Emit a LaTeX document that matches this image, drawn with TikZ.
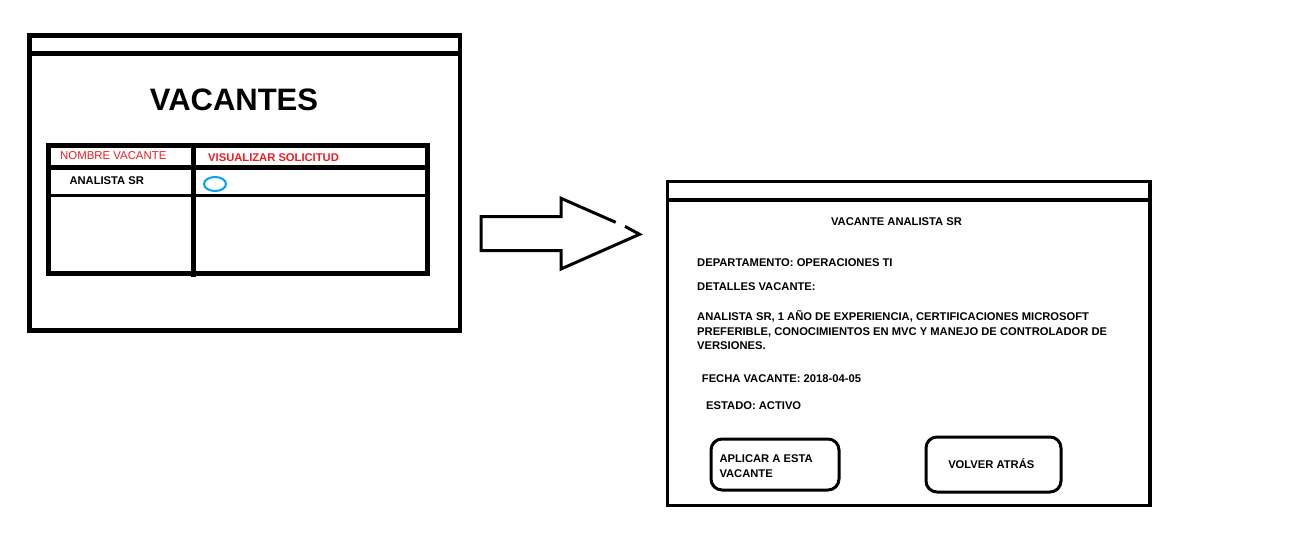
\documentclass[tikz,border=0pt]{standalone}
\usepackage{fontspec}
\setmainfont{Liberation Sans}
\definecolor{paintred}{HTML}{ED1C24}
\definecolor{paintblue}{HTML}{00A2E8}
\begin{document}
\begin{tikzpicture}[x=1pt, y=-1pt,
  txt/.style={anchor=base west, inner sep=0pt,
    font=\bfseries\fontsize{11.2}{13}\selectfont},
  hdr/.style={txt, text=paintred},
  frame/.style={line width=4.5pt},
  btn/.style={line width=3pt, rounded corners=11pt}]
\useasboundingbox (0,0) rectangle (1312,540);

% lista de vacantes
\draw[frame] (29.5,35.5) rectangle (460,330.5);
\draw[frame] (29.5,53.5) -- (460,53.5);
\node[anchor=base, inner sep=0pt, font=\bfseries\fontsize{31}{36}\selectfont]
  (titulo) at (234,111) {VACANTES};

\draw[frame] (48.5,145.5) rectangle (427.5,273.5);
\draw[frame] (48.5,167.5) -- (427.5,167.5);
\draw[line width=3.5pt] (48.5,195.5) -- (427.5,195.5);
\draw[frame] (193.5,145.5) -- (193.5,277);
\node[hdr, font=\fontsize{11.4}{13}\selectfont] (nombre) at (60,160) {NOMBRE VACANTE};
\node[hdr] (visualizar) at (208,161.5) {VISUALIZAR SOLICITUD};
\node[txt] (analista) at (69.3,184.3) {ANALISTA SR};
\draw[paintblue, line width=2pt] (215,184) ellipse (11pt and 7pt);

% flecha
\draw[line width=3pt]
  (615.7,222.3) -- (561,198.3) -- (561,216.7) -- (481,216.7)
  -- (481,250.7) -- (561,250.7) -- (561,269) -- (639.5,234.3)
  -- (625,226.4);

% detalle de la vacante
\draw[line width=3.5pt] (667.5,181.5) rectangle (1150,505.5);
\draw[line width=3.5pt] (667.5,200) -- (1150,200);
\node[txt, anchor=base] (vacante) at (896.5,225.6) {VACANTE ANALISTA SR};
\node[txt] (depto) at (697,266.6) {DEPARTAMENTO: OPERACIONES TI};
\node[txt] (detalles) at (697,290.6) {DETALLES VACANTE:};
\foreach \t [count=\i] in {
    {ANALISTA SR, 1 AÑO DE EXPERIENCIA, CERTIFICACIONES MICROSOFT},
    {PREFERIBLE, CONOCIMIENTOS EN MVC Y MANEJO DE CONTROLADOR DE},
    {VERSIONES.}}
  \node[txt] (desc\i) at (697,306.1+14.5*\i) {\t};
\node[txt] (fecha) at (701.7,382.2) {FECHA VACANTE: 2018-04-05};
\node[txt] (estado) at (706,409.6) {ESTADO: ACTIVO};

\draw[btn] (711,439) rectangle (839,490);
\node[txt] (aplicar) at (719.3,462.9) {APLICAR A ESTA};
\node[txt] (aplicar2) at (719.3,477.6) {VACANTE};
\draw[btn] (926,437) rectangle (1061,492);
\node[txt, anchor=base] (volver) at (991.3,468.2) {VOLVER ATRÁS};
\end{tikzpicture}
\end{document}
